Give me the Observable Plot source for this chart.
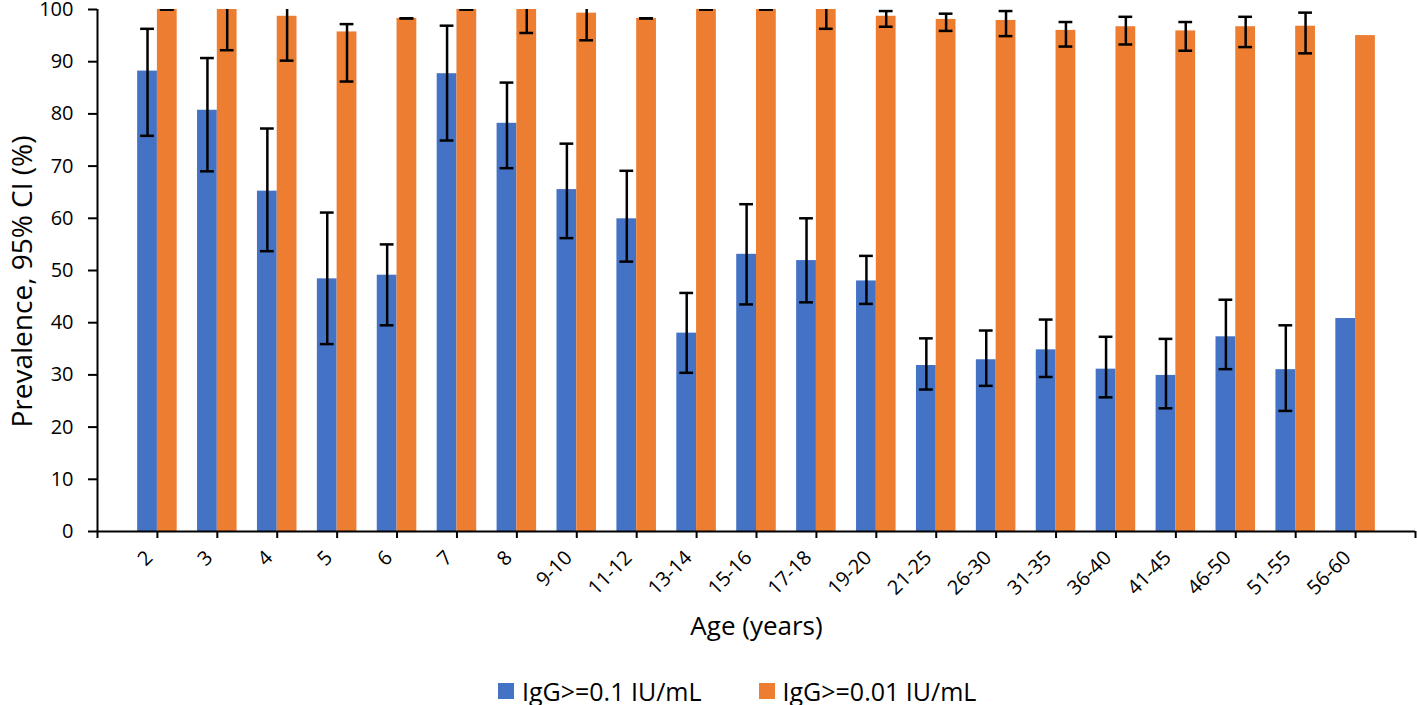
<!DOCTYPE html>
<html>
<head>
<meta charset="utf-8">
<script src="https://cdn.jsdelivr.net/npm/d3@7"></script>
<script src="https://cdn.jsdelivr.net/npm/@observablehq/plot@0.6"></script>
<style>
  html, body { margin: 0; padding: 0; background: #fff; }
  body { width: 1417px; height: 705px; overflow: hidden; font-family: "Open Sans", Lato, sans-serif; }
  #chart svg { display: block; }
  #legend { display: flex; align-items: center; height: 30px; margin-top: 6px; margin-left: 498px; font-size: 25px; line-height: 1; color: #000; }
  .item { display: flex; align-items: center; }
  .item span { line-height: 1; }
  .sw { width: 16px; height: 16px; margin-right: 8px; }
</style>
</head>
<body>
<div id="chart"></div>
<div id="legend"></div>
<script>
const categories = ["2","3","4","5","6","7","8","9-10","11-12","13-14","15-16","17-18","19-20","21-25","26-30","31-35","36-40","41-45","46-50","51-55","56-60"];
const seriesNames = ["IgG>=0.1 IU/mL", "IgG>=0.01 IU/mL"];
const igg01 = [88.2,80.7,65.2,48.4,49.1,87.7,78.2,65.5,59.9,38.0,53.1,51.9,48.0,31.8,32.9,34.8,31.1,29.9,37.3,31.0,40.8];
const igg01Low = [75.8,69.0,53.7,35.9,39.5,74.9,69.6,56.2,51.7,30.4,43.5,43.9,43.6,27.2,27.9,29.6,25.7,23.6,31.1,23.1,null];
const igg01High = [96.3,90.7,77.2,61.1,55.0,96.9,86.0,74.3,69.1,45.7,62.7,60.0,52.8,37.0,38.5,40.6,37.3,36.9,44.4,39.5,null];
const igg001 = [100,100,98.7,95.7,98.3,100,100,99.3,98.3,100,100,100,98.7,98.1,97.9,96.0,96.7,95.9,96.7,96.8,95.0];
const igg001Low = [100,92.2,90.2,86.2,98.3,100,95.5,94.1,98.3,100,100,96.3,96.7,95.9,94.9,92.9,93.3,92.1,92.8,91.6,null];
const igg001High = [100,101.5,101.5,97.2,98.3,100,101.5,101.5,98.3,100,100,101.5,99.7,99.2,99.7,97.6,98.6,97.6,98.6,99.4,null];
const yTicks = [0,10,20,30,40,50,60,70,80,90,100];
const colors = ["#4472C4", "#ED7D31"];

// build table
const rows = [];
categories.forEach((c, k) => {
  rows.push({cat: c, pos: k + 1, s: 0, v: igg01[k], lo: igg01Low[k], hi: igg01High[k]});
  rows.push({cat: c, pos: k + 1, s: 1, v: igg001[k], lo: igg001Low[k], hi: igg001High[k]});
});
const barW = 0.33;
const left = d => d.s === 0 ? d.pos - barW : d.pos;
const right = d => d.s === 0 ? d.pos : d.pos + barW;
const mid = d => (left(d) + right(d)) / 2;
const capW = 0.115;
const errRows = rows.filter(d => d.lo != null);
const xTickPos = d3.range(0, categories.length + 2);
const font = "'Open Sans', Lato, sans-serif";

const chart = Plot.plot({
  width: 1417,
  height: 670,
  marginLeft: 97,
  marginRight: 2,
  marginTop: 9,
  marginBottom: 139,
  style: {fontFamily: font, color: "#000", background: "#fff"},
  x: {type: "linear", domain: [0, categories.length + 1]},
  y: {domain: [0, 100]},
  marks: [
    Plot.rectY(rows, {x1: left, x2: right, y1: 0, y2: "v", fill: d => colors[d.s]}),
    Plot.ruleX(errRows, {x: mid, y1: "lo", y2: "hi", stroke: "#000", strokeWidth: 2.5, clip: true}),
    Plot.ruleY(errRows, {y: "lo", x1: d => mid(d) - capW, x2: d => mid(d) + capW, stroke: "#000", strokeWidth: 2.5, clip: true}),
    Plot.ruleY(errRows, {y: "hi", x1: d => mid(d) - capW, x2: d => mid(d) + capW, stroke: "#000", strokeWidth: 2.5, clip: true}),
    Plot.ruleY([0], {stroke: "#000", strokeWidth: 2}),
    Plot.ruleX([0], {stroke: "#000", strokeWidth: 2}),
    Plot.axisY({ticks: yTicks, tickSize: 9, tickPadding: 15, fontSize: 20, label: null, strokeWidth: 2}),
    Plot.axisX({ticks: xTickPos, tickFormat: () => "", tickSize: 7, label: null, strokeWidth: 2}),
    Plot.axisX({ticks: xTickPos, tickFormat: i => categories[i - 1] ?? "", tickRotate: -45, tickSize: 0, tickPadding: 23, dx: -8, fontSize: 20, label: null}),
    Plot.text(["Prevalence, 95% CI (%)"], {frameAnchor: "left", text: d => d, rotate: -90, textAnchor: "middle", dx: -74, dy: 11, fontSize: 28, fill: "#000"}),
    Plot.text(["Age (years)"], {frameAnchor: "bottom", text: d => d, dy: 103, fontSize: 26, fill: "#000"})
  ]
});
document.getElementById("chart").appendChild(chart);

const legend = document.getElementById("legend");
seriesNames.forEach((name, k) => {
  const item = document.createElement("div");
  item.className = "item";
  if (k > 0) item.style.marginLeft = "57px";
  const sw = document.createElement("div");
  sw.className = "sw";
  sw.style.background = colors[k];
  const t = document.createElement("span");
  t.textContent = name;
  item.appendChild(sw);
  item.appendChild(t);
  legend.appendChild(item);
});
</script>
</body>
</html>
